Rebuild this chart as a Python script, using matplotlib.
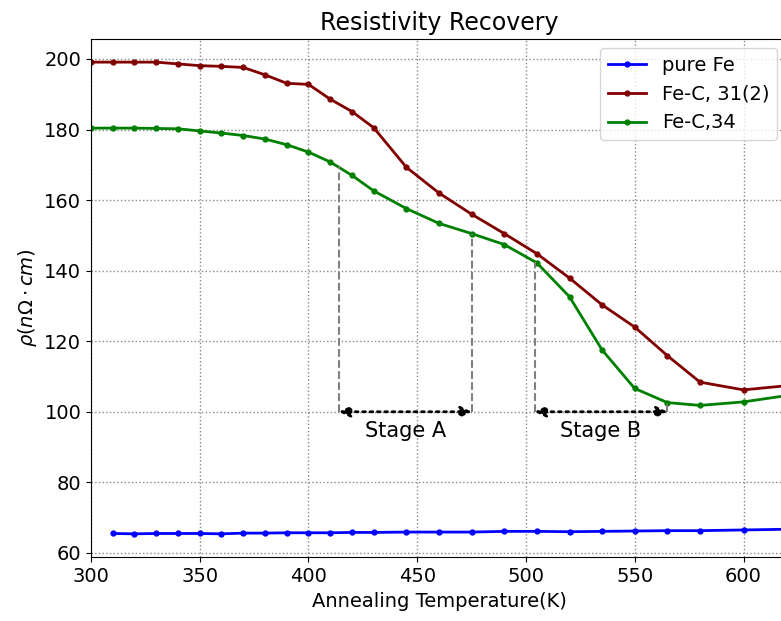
import numpy as np
import matplotlib
matplotlib.use('Agg')
import matplotlib.pyplot as plt

# temperatures (K)
temp_fe = [310, 320, 330, 340, 350, 360, 370, 380, 390, 400, 410, 420, 430,
           445, 460, 475, 490, 505, 520, 535, 550, 565, 580, 600, 620]
temp_fec = [300, 310, 320, 330, 340, 350, 360, 370, 380, 390, 400, 410, 420, 430,
            445, 460, 475, 490, 505, 520, 535, 550, 565, 580, 600, 620]

# resistivity (nOhm cm)
rho_pure_fe = [65.5, 65.4, 65.5, 65.5, 65.5, 65.4, 65.6, 65.6, 65.7, 65.7, 65.7, 65.8, 65.8,
               65.9, 65.9, 65.9, 66.1, 66.1, 66.0, 66.1, 66.2, 66.3, 66.3, 66.5, 66.7]
rho_fec_31 = [199.1, 199.1, 199.1, 199.1, 198.6, 198.1, 197.9, 197.6, 195.5, 193.1, 192.8,
              188.6, 185.1, 180.5, 169.3, 162.0, 156.0, 150.5, 144.8, 137.9, 130.3, 124.0,
              115.9, 108.4, 106.2, 107.4]
rho_fec_34 = [180.4, 180.4, 180.4, 180.3, 180.2, 179.6, 179.0, 178.3, 177.3, 175.7, 173.6,
              170.8, 167.0, 162.6, 157.6, 153.4, 150.5, 147.4, 142.2, 132.6, 117.5, 106.6,
              102.6, 101.8, 102.8, 104.6]

# stage boundaries (K)
stage_names = ['Stage A', 'Stage B']
stage_start = [414, 504]
stage_end = [475, 565]
stage_level = 100

fig = plt.figure(figsize=(7.81, 6.21), dpi=100)
ax = fig.add_axes([0.1165, 0.1023, 0.8912, 0.8357])

ax.plot(temp_fe, rho_pure_fe, '.-', color='blue', lw=2, ms=7, label='pure Fe')
ax.plot(temp_fec, rho_fec_31, '.-', color='#800000', lw=2, ms=7, label='Fe-C, 31(2)')
ax.plot(temp_fec, rho_fec_34, '.-', color='green', lw=2, ms=7, label='Fe-C,34')

# dashed markers from the green curve down to the arrows
for t0, t1 in zip(stage_start, stage_end):
    for t in (t0, t1):
        top = np.interp(t, temp_fec, rho_fec_34)
        ax.plot([t, t], [stage_level, top], '--', color='gray', lw=1.5)

for name, t0, t1 in zip(stage_names, stage_start, stage_end):
    ax.annotate('', xy=(t0, stage_level), xytext=(t1, stage_level),
                arrowprops=dict(arrowstyle='<|-|>', linestyle=':', lw=2, color='black',
                                shrinkA=0, shrinkB=0, mutation_scale=16))
    ax.text((t0 + t1) / 2, stage_level - 5.4, name, ha='center', va='center', fontsize=15)

ax.set_xlim(300, 620)
ax.set_ylim(58.7, 205.8)
ax.set_xticks([300, 350, 400, 450, 500, 550, 600])
ax.tick_params(labelsize=14)
ax.grid(True, ls=':', color='#888888', lw=1)

ax.set_title('Resistivity Recovery', fontsize=17)
ax.set_xlabel('Annealing Temperature(K)', fontsize=14)
ax.set_ylabel(r'$\rho (n\Omega \cdot cm)$', fontsize=14)
ax.legend(loc='upper right', fontsize=14)

fig.savefig('out.png', dpi=100)
